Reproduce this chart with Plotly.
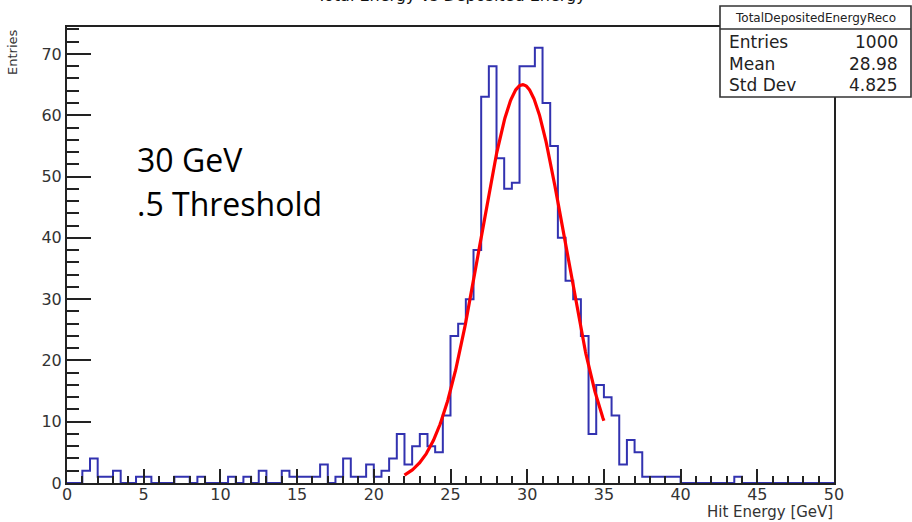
import numpy as np
import plotly.graph_objects as go

# TotalDepositedEnergyReco: 100 bins over [0, 50] GeV
bin_low = 0.0
bin_width = 0.5
counts = [
    0, 0, 2, 4, 1, 1, 2, 0, 0, 1,
    1, 0, 0, 0, 1, 1, 0, 1, 0, 0,
    0, 1, 0, 1, 0, 2, 0, 0, 2, 1,
    1, 1, 1, 3, 0, 1, 4, 1, 1, 3,
    1, 2, 4, 8, 3, 6, 8, 6, 5, 11,
    24, 26, 30, 38, 63, 68, 53, 48, 49, 68,
    68, 71, 62, 55, 40, 33, 30, 24, 8, 16,
    14, 11, 3, 7, 5, 1, 1, 1, 1, 1,
    0, 0, 0, 0, 0, 0, 0, 1, 0, 0,
    0, 0, 0, 0, 0, 0, 0, 0, 0, 0,
]

# Gaussian fit result and fit range
fit_const = 65.0
fit_mean = 29.7
fit_sigma = 2.75
fit_lo, fit_hi = 22.0, 35.0

# Statistics box
stats_title = "TotalDepositedEnergyReco"
stat_names = ["Entries", "Mean", "Std Dev"]
stat_values = ["1000", "28.98", "4.825"]

# Frame geometry in pixels (canvas 912 x 522)
W, H = 912, 522
L, R, T, B = 67, 834, 27, 483


def px_x(p):
    return (p - L) / (R - L)


def px_y(p):
    return (B - p) / (B - T)


edges = bin_low + bin_width * np.arange(len(counts) + 1)
steps = list(counts) + [counts[-1]]

xf = np.linspace(fit_lo, fit_hi, 400)
yf = fit_const * np.exp(-0.5 * ((xf - fit_mean) / fit_sigma) ** 2)

fig = go.Figure()
fig.add_trace(go.Scatter(
    x=edges, y=steps, mode="lines", line_shape="hv",
    line=dict(color="#3232b0", width=2), hoverinfo="skip",
))
fig.add_trace(go.Scatter(
    x=xf, y=yf, mode="lines",
    line=dict(color="#ff0000", width=3.2), hoverinfo="skip",
))

axis_col = "#222222"
tick_font = dict(family="DejaVu Sans", size=16, color="#333333")

fig.update_layout(
    width=W, height=H,
    margin=dict(l=L, r=W - R, t=T, b=H - B, pad=0),
    paper_bgcolor="white", plot_bgcolor="white",
    showlegend=False,
    xaxis=dict(
        range=[0, 50], showgrid=False, zeroline=False,
        showline=True, mirror=True, linecolor=axis_col, linewidth=2,
        ticks="inside", ticklen=14, tickwidth=1.6, tickcolor=axis_col,
        tick0=0, dtick=5, tickfont=tick_font, ticklabelstandoff=-4,
        minor=dict(ticks="inside", ticklen=7, dtick=1, tickwidth=1.6,
                   tickcolor=axis_col, showgrid=False),
    ),
    yaxis=dict(
        range=[0, 74.4], showgrid=False, zeroline=False,
        showline=True, mirror=True, linecolor=axis_col, linewidth=2,
        ticks="inside", ticklen=24, tickwidth=1.6, tickcolor=axis_col,
        tick0=0, dtick=10, tickfont=tick_font,
        minor=dict(ticks="inside", ticklen=12, dtick=2, tickwidth=1.6,
                   tickcolor=axis_col, showgrid=False),
    ),
)

# Statistics box
bx0, bx1, by0, by1, bdiv = 720, 911, 6, 97, 29
fig.add_shape(type="rect", xref="paper", yref="paper",
              x0=px_x(bx0), x1=px_x(bx1), y0=px_y(by1), y1=px_y(by0),
              fillcolor="white", line=dict(color="#333333", width=1.6),
              layer="above")
fig.add_shape(type="line", xref="paper", yref="paper",
              x0=px_x(bx0), x1=px_x(bx1), y0=px_y(bdiv), y1=px_y(bdiv),
              line=dict(color="#333333", width=1.6), layer="above")

annotations = []
annotations.append(dict(
    text=stats_title, xref="paper", yref="paper",
    x=px_x((bx0 + bx1) / 2), y=px_y(18), xanchor="center", yanchor="middle",
    showarrow=False, font=dict(family="DejaVu Sans", size=12, color="#222222"),
))
row_y = [42.5, 63.5, 85]
for name, val, ry in zip(stat_names, stat_values, row_y):
    annotations.append(dict(
        text=name, xref="paper", yref="paper", x=px_x(727), y=px_y(ry),
        xanchor="left", yanchor="middle", showarrow=False,
        font=dict(family="DejaVu Sans", size=17, color="#222222"),
    ))
    annotations.append(dict(
        text=val, xref="paper", yref="paper", x=px_x(900), y=px_y(ry),
        xanchor="right", yanchor="middle", showarrow=False,
        font=dict(family="DejaVu Sans", size=17, color="#222222"),
    ))

# Axis titles, placed at the axis ends
annotations.append(dict(
    text="Entries", xref="paper", yref="paper", x=px_x(12), y=1,
    xanchor="center", yanchor="top", textangle=-90, showarrow=False,
    font=dict(family="DejaVu Sans", size=13, color="#333333"),
))
annotations.append(dict(
    text="Hit Energy [GeV]", xref="paper", yref="paper", x=1, y=px_y(522),
    xanchor="right", yanchor="bottom", showarrow=False, borderpad=0,
    font=dict(family="DejaVu Sans", size=15, color="#333333"),
))

# Histogram title, running off the top edge of the canvas
annotations.append(dict(
    text="Total Energy vs Deposited Energy", xref="paper", yref="paper",
    x=px_x(451), y=px_y(7), xanchor="center", yanchor="bottom",
    showarrow=False, font=dict(family="DejaVu Sans", size=16, color="#111111"),
))

# Run conditions
annotations.append(dict(
    text="30 GeV", xref="paper", yref="paper", x=px_x(135), y=px_y(160),
    xanchor="left", yanchor="middle", showarrow=False,
    font=dict(family="Open Sans", size=32, color="black"),
))
annotations.append(dict(
    text=".5 Threshold", xref="paper", yref="paper", x=px_x(135), y=px_y(203),
    xanchor="left", yanchor="middle", showarrow=False,
    font=dict(family="Open Sans", size=32, color="black"),
))

fig.update_layout(annotations=annotations)
fig.write_html("out.html")
